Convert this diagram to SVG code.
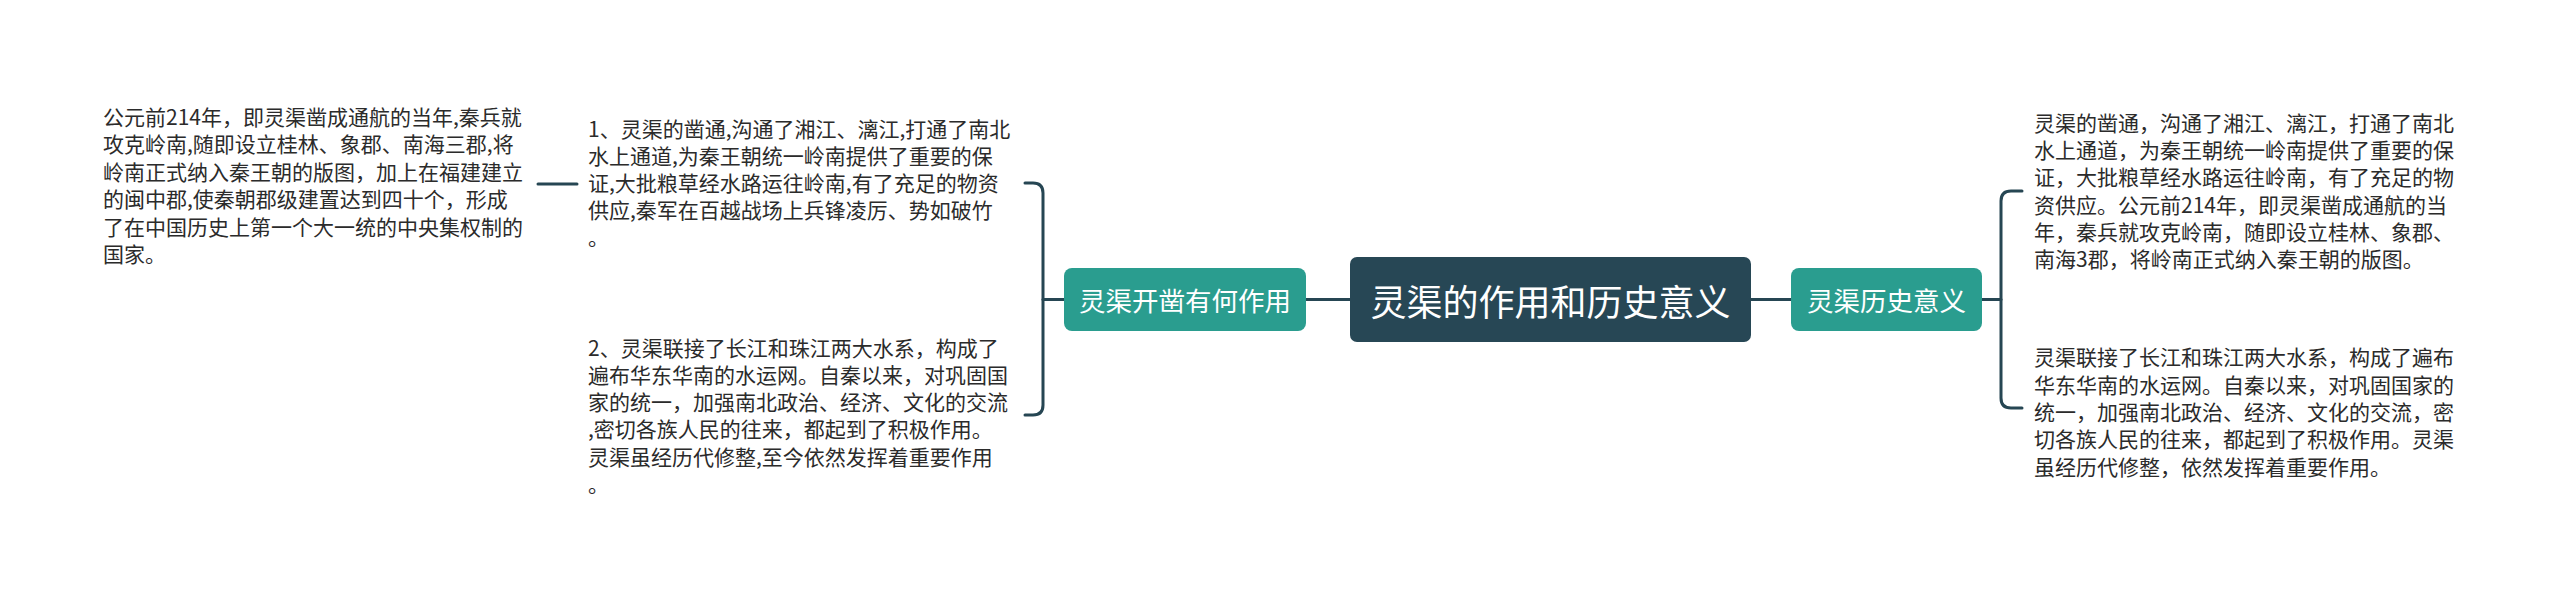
<svg xmlns="http://www.w3.org/2000/svg" width="2560" height="599" viewBox="0 0 2560 599">
<style>
.t{font-family:"Noto Sans CJK SC","Noto Sans",sans-serif;font-size:21px;fill:#2b2b2b}
.c{font-family:"Noto Sans CJK SC","Noto Sans",sans-serif;fill:#ffffff;text-anchor:middle;dominant-baseline:central}
.ln{fill:none;stroke:#264653;stroke-width:3;stroke-linecap:round}
.root{fill:#274755}
.sub{fill:#2a9d8f}
</style>
<rect width="2560" height="599" fill="#ffffff"/>
<g id="connectors">
<path class="ln" d="M1306,299.5 H1350"/>
<path class="ln" d="M1751,299.5 H1791"/>
<path class="ln" d="M1043,299.5 H1064"/>
<path class="ln" d="M1025,183 H1033 Q1043,183 1043,193 V405 Q1043,415 1033,415 H1025"/>
<path class="ln" d="M1982,299.5 H2001"/>
<path class="ln" d="M2022,191 H2011 Q2001,191 2001,201 V398 Q2001,408 2011,408 H2022"/>
<path class="ln" d="M538,184 H577"/>
</g>
<g id="root">
<rect class="root" x="1350" y="257" width="401" height="85" rx="7"/>
<text class="c" x="1550.5" y="299.5" font-size="36">灵渠的作用和历史意义</text>
</g>
<g id="left-child">
<rect class="sub" x="1064" y="268" width="242" height="63" rx="8"/>
<text class="c" x="1185" y="299.5" font-size="26.5">灵渠开凿有何作用</text>
</g>
<g id="right-child">
<rect class="sub" x="1791" y="268" width="191" height="63" rx="8"/>
<text class="c" x="1886.5" y="299.5" font-size="26.5">灵渠历史意义</text>
</g>
<g id="left-leaf-1">
<text class="t" x="588">
<tspan x="588" y="137">1、灵渠的凿通,沟通了湘江、漓江,打通了南北</tspan>
<tspan x="588" y="164">水上通道,为秦王朝统一岭南提供了重要的保</tspan>
<tspan x="588" y="191">证,大批粮草经水路运往岭南,有了充足的物资</tspan>
<tspan x="588" y="218">供应,秦军在百越战场上兵锋凌厉、势如破竹</tspan>
<tspan x="588" y="245">。</tspan>
</text>
</g>
<g id="left-leaf-2">
<text class="t" x="588">
<tspan x="588" y="355.5">2、灵渠联接了长江和珠江两大水系，构成了</tspan>
<tspan x="588" y="382.5">遍布华东华南的水运网。自秦以来，对巩固国</tspan>
<tspan x="588" y="410">家的统一，加强南北政治、经济、文化的交流</tspan>
<tspan x="588" y="437">,密切各族人民的往来，都起到了积极作用。</tspan>
<tspan x="588" y="464.5">灵渠虽经历代修整,至今依然发挥着重要作用</tspan>
<tspan x="588" y="492">。</tspan>
</text>
</g>
<g id="left-leaf-1-1">
<text class="t" x="103">
<tspan x="103" y="124.5">公元前214年，即灵渠凿成通航的当年,秦兵就</tspan>
<tspan x="103" y="152">攻克岭南,随即设立桂林、象郡、南海三郡,将</tspan>
<tspan x="103" y="179.5">岭南正式纳入秦王朝的版图，加上在福建建立</tspan>
<tspan x="103" y="207">的闽中郡,使秦朝郡级建置达到四十个，形成</tspan>
<tspan x="103" y="234.5">了在中国历史上第一个大一统的中央集权制的</tspan>
<tspan x="103" y="262">国家。</tspan>
</text>
</g>
<g id="right-leaf-1">
<text class="t" x="2034">
<tspan x="2034" y="130.5">灵渠的凿通，沟通了湘江、漓江，打通了南北</tspan>
<tspan x="2034" y="158">水上通道，为秦王朝统一岭南提供了重要的保</tspan>
<tspan x="2034" y="185">证，大批粮草经水路运往岭南，有了充足的物</tspan>
<tspan x="2034" y="212.5">资供应。公元前214年，即灵渠凿成通航的当</tspan>
<tspan x="2034" y="240">年，秦兵就攻克岭南，随即设立桂林、象郡、</tspan>
<tspan x="2034" y="267">南海3郡，将岭南正式纳入秦王朝的版图。</tspan>
</text>
</g>
<g id="right-leaf-2">
<text class="t" x="2034">
<tspan x="2034" y="365">灵渠联接了长江和珠江两大水系，构成了遍布</tspan>
<tspan x="2034" y="392.5">华东华南的水运网。自秦以来，对巩固国家的</tspan>
<tspan x="2034" y="420">统一，加强南北政治、经济、文化的交流，密</tspan>
<tspan x="2034" y="447">切各族人民的往来，都起到了积极作用。灵渠</tspan>
<tspan x="2034" y="474.5">虽经历代修整，依然发挥着重要作用。</tspan>
</text>
</g>
</svg>
